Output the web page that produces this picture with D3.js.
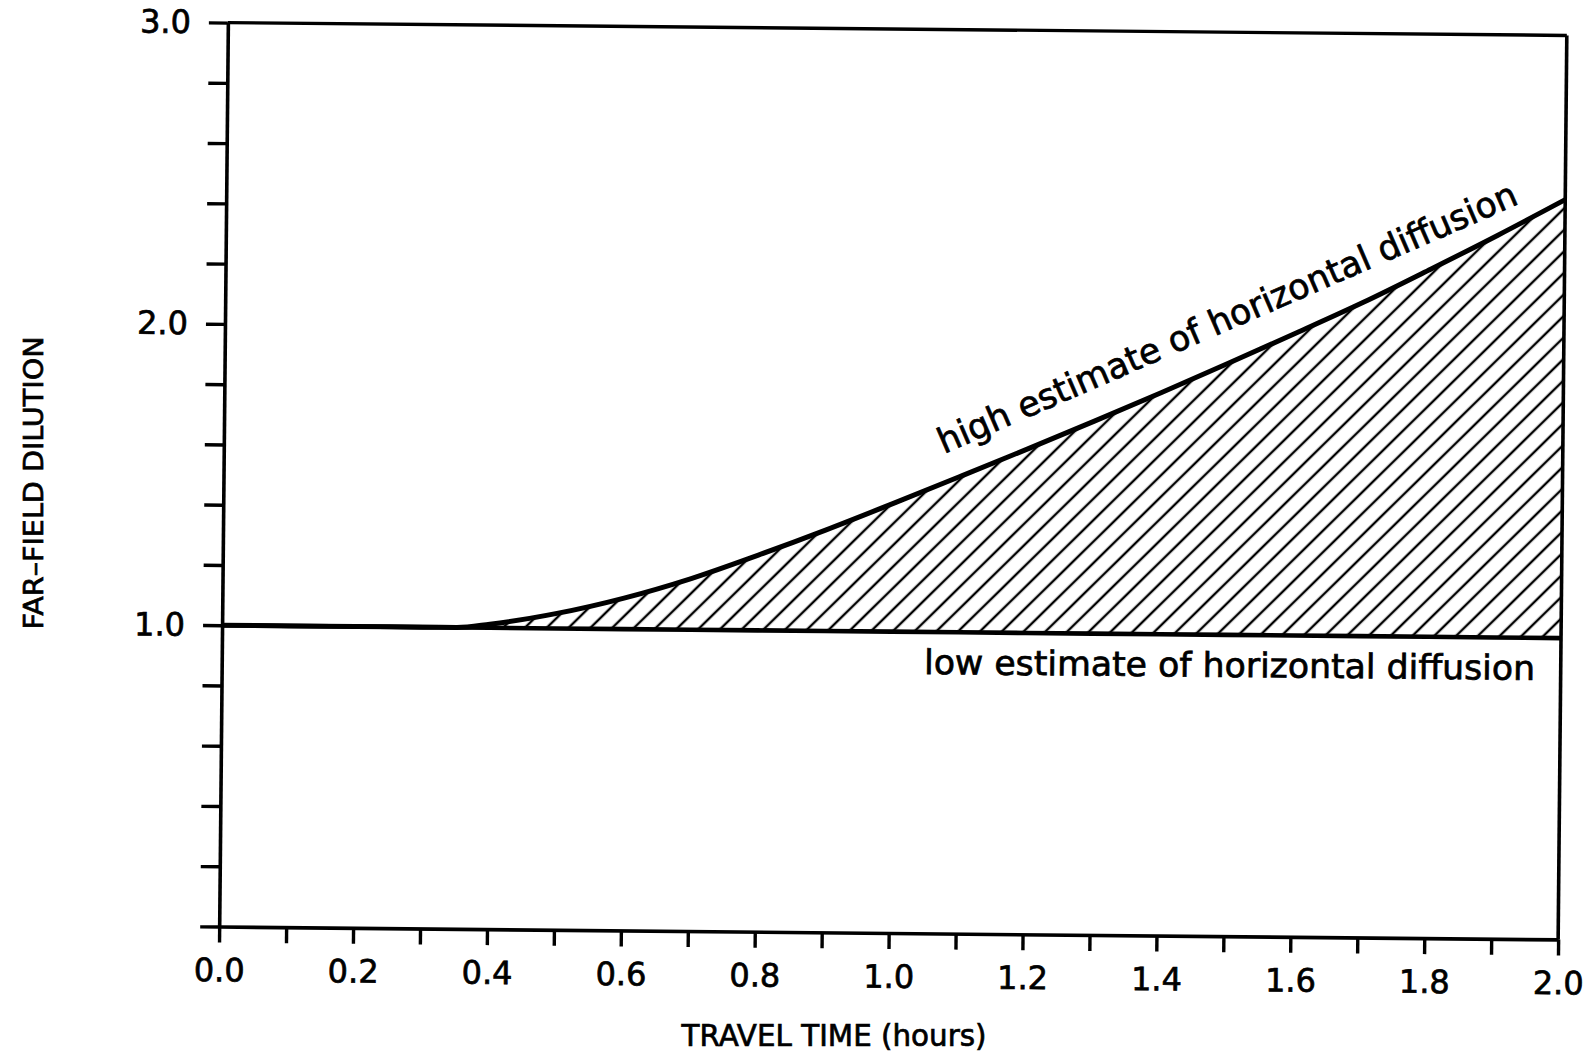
<!DOCTYPE html>
<html>
<head>
<meta charset="utf-8">
<script src="https://cdn.jsdelivr.net/npm/d3@7"></script>
<style>
  body { margin: 0; background: #fff; }
  text { font-family: "DejaVu Sans", sans-serif; fill: #000; stroke: #000; stroke-width: 0.7px; }
</style>
</head>
<body>
<div id="viz"></div>
<script>
// travel time (hours) and far-field dilution
const times = [0, 0.2, 0.3, 0.35, 0.4, 0.5, 0.6, 0.7, 0.8, 0.9, 1.0,
               1.1, 1.2, 1.3, 1.4, 1.5, 1.6, 1.7, 1.8, 1.9, 2.0];
const highEstimate = [1.0, 1.0, 1.0, 1.0, 1.012, 1.05, 1.103, 1.17, 1.25, 1.335, 1.425,
                      1.517, 1.61, 1.705, 1.802, 1.902, 2.004, 2.108, 2.22, 2.335, 2.455];
const lowEstimate = [1.0, 1.0, 1.0, 1.0, 1.0, 1.0, 1.0, 1.0, 1.0, 1.0, 1.0,
                     1.0, 1.0, 1.0, 1.0, 1.0, 1.0, 1.0, 1.0, 1.0, 1.0];

const xTicks = [0, 0.1, 0.2, 0.3, 0.4, 0.5, 0.6, 0.7, 0.8, 0.9, 1.0,
                1.1, 1.2, 1.3, 1.4, 1.5, 1.6, 1.7, 1.8, 1.9, 2.0];
const xTickLabels = [0, 0.2, 0.4, 0.6, 0.8, 1.0, 1.2, 1.4, 1.6, 1.8, 2.0];
const yTicks = [0, 0.2, 0.4, 0.6, 0.8, 1.0, 1.2, 1.4, 1.6, 1.8, 2.0,
                2.2, 2.4, 2.6, 2.8, 3.0];
const yTickLabels = [1.0, 2.0, 3.0];

const W = 1592, H = 1059;
const plot = {left: 223.5, right: 1562.5, top: 29, bottom: 933};

const svg = d3.select("#viz").append("svg")
    .attr("width", W)
    .attr("height", H);

// hatch pattern for the band between the two estimates
const hs = 15.3;
svg.append("defs").append("pattern")
    .attr("id", "hatch")
    .attr("patternUnits", "userSpaceOnUse")
    .attr("width", hs).attr("height", hs)
    .attr("patternTransform", "rotate(45)")
  .append("line")
    .attr("x1", hs / 2).attr("y1", 0)
    .attr("x2", hs / 2).attr("y2", hs)
    .attr("stroke", "#000")
    .attr("stroke-width", 2.4);

// scanned original sits a little tilted
const g = svg.append("g")
    .attr("transform", "rotate(0.55, 893, 481)");

const x = d3.scaleLinear().domain([0, 2]).range([plot.left, plot.right]);
const y = d3.scaleLinear().domain([0, 3]).range([plot.bottom, plot.top]);

const rows = times.map((t, i) => ({t: t, hi: highEstimate[i], lo: lowEstimate[i]}));

// hatched area
g.append("path")
    .datum(rows)
    .attr("fill", "url(#hatch)")
    .attr("d", d3.area()
        .curve(d3.curveMonotoneX)
        .x(d => x(d.t))
        .y0(d => y(d.lo))
        .y1(d => y(d.hi)));

// frame: top and right
g.append("line")
    .attr("x1", x(0)).attr("y1", y(3))
    .attr("x2", x(2)).attr("y2", y(3))
    .attr("stroke", "#000").attr("stroke-width", 3.4);
g.append("line")
    .attr("x1", x(2)).attr("y1", y(3))
    .attr("x2", x(2)).attr("y2", y(0))
    .attr("stroke", "#000").attr("stroke-width", 3.6);

// axes
const xAxis = g.append("g")
    .attr("transform", `translate(0,${plot.bottom})`)
    .call(d3.axisBottom(x)
        .tickValues(xTicks)
        .tickSize(16)
        .tickSizeOuter(0)
        .tickPadding(16)
        .tickFormat(d => xTickLabels.some(v => Math.abs(v - d) < 1e-6) ? d3.format(".1f")(d) : ""));

const yAxis = g.append("g")
    .attr("transform", `translate(${plot.left},0)`)
    .call(d3.axisLeft(y)
        .tickValues(yTicks)
        .tickSize(19)
        .tickSizeOuter(0)
        .tickPadding(18)
        .tickFormat(d => yTickLabels.some(v => Math.abs(v - d) < 1e-6) ? d3.format(".1f")(d) : ""));

[xAxis, yAxis].forEach(a => {
    a.select(".domain").attr("stroke", "#000").attr("stroke-width", 3.6);
    a.selectAll(".tick line").attr("stroke", "#000").attr("stroke-width", 3.4);
    a.selectAll(".tick text")
        .attr("fill", "#000")
        .style("font-size", "32px")
        .style("font-family", "DejaVu Sans, sans-serif");
});

// the two estimate lines
g.append("path")
    .datum(rows)
    .attr("fill", "none")
    .attr("stroke", "#000")
    .attr("stroke-width", 4.6)
    .attr("d", d3.line().x(d => x(d.t)).y(d => y(d.lo)));

g.append("path")
    .datum(rows)
    .attr("fill", "none")
    .attr("stroke", "#000")
    .attr("stroke-width", 5)
    .attr("d", d3.line().curve(d3.curveMonotoneX).x(d => x(d.t)).y(d => y(d.hi)));

// axis titles
svg.append("text")
    .attr("transform", "translate(43,483) rotate(-90)")
    .attr("text-anchor", "middle")
    .attr("textLength", 293)
    .attr("lengthAdjust", "spacingAndGlyphs")
    .style("font-size", "27px")
    .text("FAR\u2013FIELD  DILUTION");

svg.append("text")
    .attr("x", 834).attr("y", 1046)
    .attr("text-anchor", "middle")
    .attr("textLength", 305)
    .attr("lengthAdjust", "spacingAndGlyphs")
    .style("font-size", "30px")
    .text("TRAVEL  TIME  (hours)");

// annotations
svg.append("text")
    .attr("transform", "translate(944,454) rotate(-23.5)")
    .attr("textLength", 628)
    .attr("lengthAdjust", "spacingAndGlyphs")
    .style("font-size", "35px")
    .text("high estimate of horizontal diffusion");

svg.append("text")
    .attr("transform", "translate(924,674) rotate(0.55)")
    .attr("textLength", 611)
    .attr("lengthAdjust", "spacingAndGlyphs")
    .style("font-size", "34px")
    .text("low estimate of horizontal diffusion");
</script>
</body>
</html>
